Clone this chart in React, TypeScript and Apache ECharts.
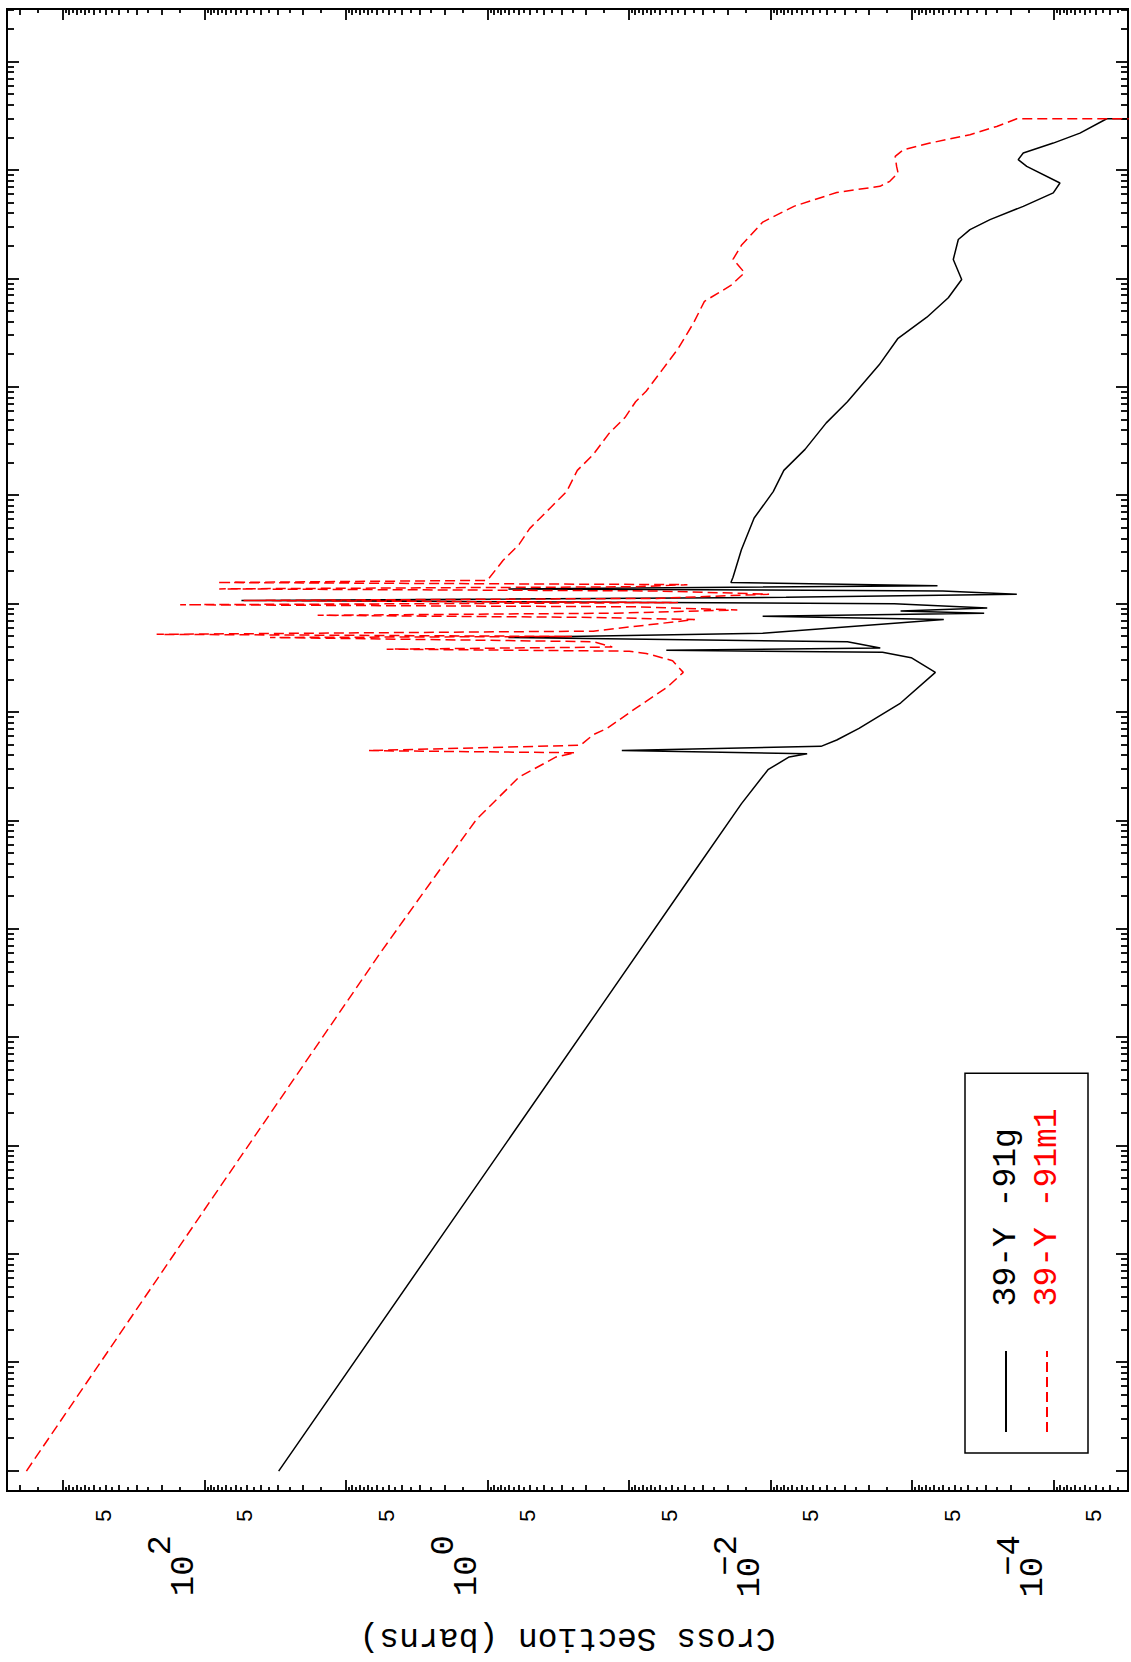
import React, { useEffect, useRef } from "react";
import * as echarts from "echarts";

const FONT = "Liberation Mono";

// Axis extents, log10 of eV (energy) and of barns (cross section)
const ENERGY_LOG_MIN = -5.184;
const ENERGY_LOG_MAX = 8.49;
const XS_LOG_MIN = -4.528;
const XS_LOG_MAX = 3.394;

// Tick definitions
const energyDecades = [-5, -4, -3, -2, -1, 0, 1, 2, 3, 4, 5, 6, 7, 8];
const energyMinorFactors = [2, 3, 4, 5, 6, 7, 8, 9];
const xsDecades = [-5, -4, -3, -2, -1, 0, 1, 2, 3];
const xsIntMinorFactors = [2, 3, 4, 5, 6, 7, 8, 9];
const xsHalfMinorFactors = [1.5, 2.5, 3.5, 4.5, 5.5, 6.5, 7.5, 8.5, 9.5];
const xsPowerLabelDecades = [-4, -2, 0, 2];
const xsFiveLabelDecades = [-5, -4, -3, -2, -1, 0, 1, 2];

// 39-Y-91 ground state: energy (eV) and cross section (barns)
const y91gEnergy = [1e-5, 1.62e-3, 0.162, 3.35, 14.4, 29.6, 38.8, 41.5, 44.4, 48.6, 55.6, 71.1, 122, 234, 320, 358, 375, 392, 449, 491, 537, 719, 769, 823, 861, 921, 1007, 1078, 1153, 1233, 1319, 1379, 1476, 1579, 1766, 3170, 6210, 1.09e4, 1.71e4, 2.67e4, 4.69e4, 7.35e4, 1.61e5, 2.83e5, 4.43e5, 6.7e5, 9.87e5, 1.51e6, 2.31e6, 2.85e6, 3.52e6, 4.67e6, 6.21e6, 7.67e6, 1.09e7, 1.26e7, 1.45e7, 1.79e7, 2.21e7, 3.0e7, 3.0e7];
const y91gXs = [29.8, 2.0, 0.173, 0.0347, 0.01597, 0.01038, 7.35e-3, 5.49e-3, 0.112, 4.38e-3, 3.39e-3, 2.36e-3, 1.2e-3, 6.81e-4, 1.01e-3, 1.61e-3, 0.0543, 1.67e-3, 2.85e-3, 0.709, 0.01132, 5.94e-4, 0.01132, 3.08e-4, 1.2e-3, 2.93e-4, 1.33e-3, 54.6, 7.74e-3, 1.81e-4, 6.04e-4, 0.709, 6.58e-4, 0.01898, 0.01834, 0.016, 0.013, 9.53e-3, 8.02e-3, 5.68e-3, 4.02e-3, 2.85e-3, 1.7e-3, 1.25e-3, 7.82e-4, 5.52e-4, 4.44e-4, 5.09e-4, 4.69e-4, 3.88e-4, 2.8e-4, 1.63e-4, 1.0e-4, 8.97e-5, 1.54e-4, 1.77e-4, 1.63e-4, 1.0e-4, 6.48e-5, 4.19e-5, 1e-7];

// 39-Y-91m1 isomer: energy (eV) and cross section (barns)
const y91m1Energy = [1e-5, 3.25e-3, 0.622, 3.0, 10.3, 25.3, 38.8, 42.4, 44.4, 49.7, 62.2, 71.1, 109, 171, 234, 300, 350, 367, 383, 401, 449, 491, 502, 525, 562, 719, 752, 787, 823, 881, 942, 985, 1030, 1078, 1127, 1233, 1319, 1379, 1443, 1509, 1579, 1651, 2530, 3544, 4963, 7779, 1.09e4, 1.71e4, 2.39e4, 3.75e4, 5.25e4, 7.35e4, 9.2e4, 1.44e5, 2.26e5, 3.96e5, 6.21e5, 8.69e5, 1.14e6, 1.52e6, 2.04e6, 3.34e6, 4.69e6, 6.27e6, 7.14e6, 7.94e6, 9.48e6, 1.09e7, 1.35e7, 1.55e7, 1.79e7, 2.14e7, 2.55e7, 3.0e7, 3.0e7];
const y91m1Xs = [1806, 88.4, 5.61, 2.37, 1.19, 0.596, 0.326, 0.239, 6.9, 0.2195, 0.1784, 0.1426, 0.0895, 0.0534, 0.0412, 0.049, 0.0754, 0.0993, 5.14, 0.1308, 0.1784, 34.3, 0.252, 217, 0.1784, 0.0341, 0.1784, 15.8, 0.1264, 0.0171, 0.0895, 148, 0.0449, 52.7, 0.0634, 0.0102, 0.0634, 78.4, 0.0895, 0.0385, 81.1, 1.0, 0.772, 0.596, 0.502, 0.356, 0.275, 0.231, 0.1784, 0.1378, 0.1064, 0.0895, 0.0754, 0.0582, 0.0449, 0.0347, 0.0292, 0.019, 0.0152, 0.0183, 0.016, 0.0113, 6.75e-3, 3.39e-3, 1.68e-3, 1.43e-3, 1.25e-3, 1.28e-3, 1.31e-3, 1.15e-3, 7.44e-4, 3.88e-4, 2.51e-4, 1.81e-4, 1e-7];

const seriesNames = ["39-Y -91g", "39-Y -91m1"];
const axisTitle = "Cross Section (barns)";

const lg = Math.log10;
const inRange = (lo: number, hi: number) => (v: number) => v >= lo && v <= hi;
const toPoints = (e: number[], s: number[]) => e.map((v, i) => [lg(v), lg(s[i])]);

const eMajor = energyDecades.filter(inRange(ENERGY_LOG_MIN, ENERGY_LOG_MAX));
const eMinor = energyDecades
  .flatMap((d) => energyMinorFactors.map((f) => d + lg(f)))
  .filter(inRange(ENERGY_LOG_MIN, ENERGY_LOG_MAX));
const xsMajor = xsDecades.filter(inRange(XS_LOG_MIN, XS_LOG_MAX));
const xsIntMinor = xsDecades
  .flatMap((d) => xsIntMinorFactors.map((f) => d + lg(f)))
  .filter(inRange(XS_LOG_MIN, XS_LOG_MAX));
const xsHalfMinor = xsDecades
  .flatMap((d) => xsHalfMinorFactors.map((f) => d + lg(f)))
  .filter(inRange(XS_LOG_MIN, XS_LOG_MAX));
const xsPowerLabels = xsPowerLabelDecades.filter(inRange(XS_LOG_MIN, XS_LOG_MAX));
const xsFiveLabels = xsFiveLabelDecades.map((d) => d + lg(5)).filter(inRange(XS_LOG_MIN, XS_LOG_MAX));

const tickStyle = { color: "#000", width: 1.8 };

function xAxisDef(position: string, ticks: number[], len: number) {
  return {
    type: "value",
    gridIndex: 0,
    position,
    min: ENERGY_LOG_MIN,
    max: ENERGY_LOG_MAX,
    axisLine: { show: false, onZero: false },
    splitLine: { show: false },
    axisLabel: { show: false },
    axisTick: { show: true, inside: true, length: len, customValues: ticks, lineStyle: tickStyle },
  };
}

function yAxisDef(position: string, ticks: number[], len: number, extra: any = {}) {
  return {
    type: "value",
    gridIndex: 0,
    position,
    min: XS_LOG_MIN,
    max: XS_LOG_MAX,
    axisLine: { show: false, onZero: false },
    splitLine: { show: false },
    axisLabel: { show: false },
    axisTick: { show: true, inside: true, length: len, customValues: ticks, lineStyle: tickStyle },
    ...extra,
  };
}

const powerRich = {
  b: { fontFamily: FONT, fontSize: 34, lineHeight: 34, verticalAlign: "bottom", color: "#000" },
  s: { fontFamily: FONT, fontSize: 34, lineHeight: 34, padding: [0, 0, 23, 0], verticalAlign: "bottom", color: "#000" },
  n: { fontFamily: FONT, fontSize: 34, lineHeight: 34, padding: [0, 0, 23, -19], verticalAlign: "bottom", color: "#000" },
};

const option: any = {
  animation: false,
  backgroundColor: "#fff",
  grid: {
    left: 168,
    right: 9,
    top: 7,
    bottom: 3,
    show: true,
    borderColor: "#000",
    borderWidth: 2,
    backgroundColor: "transparent",
  },
  xAxis: [
    xAxisDef("bottom", eMajor, 12),
    xAxisDef("bottom", eMinor, 7),
    xAxisDef("top", eMajor, 12),
    xAxisDef("top", eMinor, 7),
  ],
  yAxis: [
    yAxisDef("left", xsMajor, 11, {
      name: axisTitle,
      nameLocation: "middle",
      nameRotate: 90,
      nameGap: 130,
      nameTextStyle: { fontFamily: FONT, fontSize: 33, color: "#000" },
      axisLabel: {
        show: true,
        customValues: xsPowerLabels,
        margin: 44,
        align: "right",
        verticalAlign: "middle",
        padding: [0, 0, 41, 0],
        formatter: (v: number) => {
          const n = Math.round(v);
          return n < 0 ? `{b|10}{n|\u2212${-n}}` : `{b|10}{s|${n}}`;
        },
        rich: powerRich,
      },
    }),
    yAxisDef("left", xsIntMinor, 6, {
      axisLabel: {
        show: true,
        customValues: xsFiveLabels,
        margin: 18,
        align: "right",
        verticalAlign: "middle",
        padding: [0, 0, 13, 0],
        fontFamily: FONT,
        fontSize: 22,
        color: "#000",
        formatter: () => "5",
      },
    }),
    yAxisDef("left", xsHalfMinor, 4),
    yAxisDef("right", xsMajor, 11),
    yAxisDef("right", xsIntMinor, 6),
    yAxisDef("right", xsHalfMinor, 4),
  ],
  legend: {
    show: true,
    orient: "vertical",
    left: 209,
    top: 965,
    padding: [23, 35, 23, 20],
    itemGap: 5,
    itemWidth: 81,
    itemHeight: 14,
    borderColor: "#000",
    borderWidth: 1.5,
    backgroundColor: "#fff",
    selectedMode: false,
    itemStyle: { opacity: 0 },
    formatter: (name: string) => "\u00a0\u00a0" + name,
    textStyle: { fontFamily: FONT, fontSize: 33, lineHeight: 36 },
    data: [
      { name: seriesNames[0], textStyle: { color: "#000" } },
      { name: seriesNames[1], textStyle: { color: "#ff0000" } },
    ],
  },
  series: [
    {
      type: "line",
      name: seriesNames[0],
      xAxisIndex: 0,
      yAxisIndex: 0,
      data: toPoints(y91gEnergy, y91gXs),
      symbol: "none",
      showSymbol: false,
      clip: true,
      lineStyle: { color: "#000", width: 1.5 },
      itemStyle: { color: "#000" },
    },
    {
      type: "line",
      name: seriesNames[1],
      xAxisIndex: 0,
      yAxisIndex: 0,
      data: toPoints(y91m1Energy, y91m1Xs),
      symbol: "none",
      showSymbol: false,
      clip: true,
      lineStyle: { color: "#ff0000", width: 1.5, type: [10, 5] },
      itemStyle: { color: "#ff0000" },
    },
  ],
};

export default function App() {
  const ref = useRef<HTMLDivElement>(null);
  useEffect(() => {
    const chart = echarts.init(ref.current!, undefined, { renderer: "svg" });
    chart.setOption(option);
    return () => chart.dispose();
  }, []);
  return (
    <div
      style={{
        position: "absolute",
        left: 0,
        top: 0,
        width: 1131,
        height: 1662,
        overflow: "hidden",
        background: "#fff",
      }}
    >
      <div
        ref={ref}
        style={{
          position: "absolute",
          left: 0,
          top: 0,
          width: 1662,
          height: 1131,
          transformOrigin: "0 0",
          transform: "translate(0px, 1662px) rotate(-90deg)",
        }}
      />
    </div>
  );
}
